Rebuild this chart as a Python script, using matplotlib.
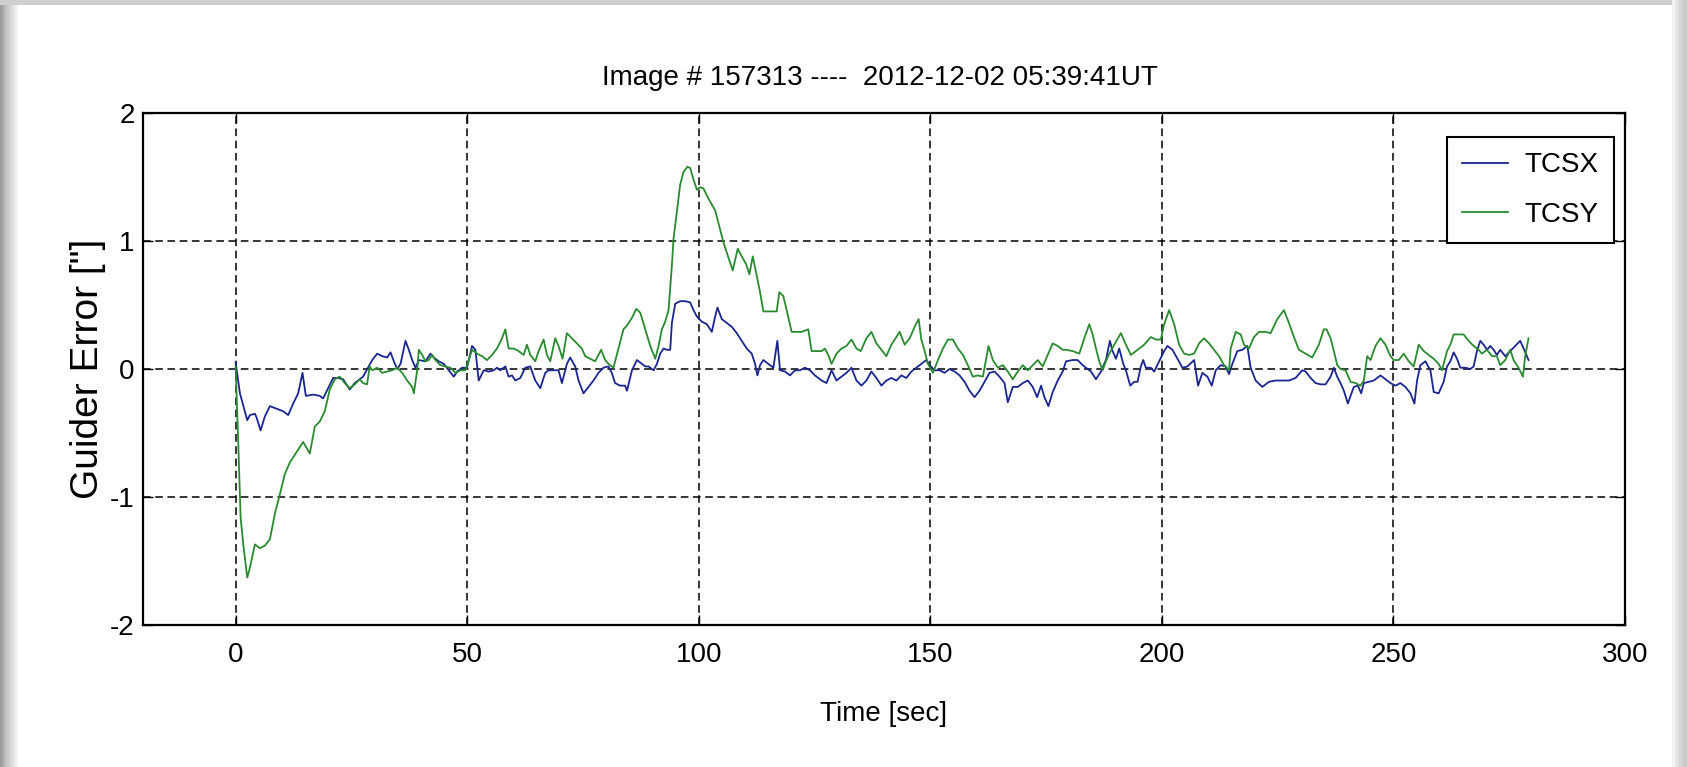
import matplotlib
matplotlib.use('Agg')
import matplotlib.pyplot as plt
from matplotlib.patches import Rectangle

plt.rcParams['font.family'] = ['Liberation Sans', 'DejaVu Sans']
plt.rcParams['axes.unicode_minus'] = False

# guider error samples, TCSX
tcsx_t = [0, 0.93, 2.51, 3.09, 4.17, 4.53, 5.39, 6.32, 7.40, 8.84, 10.27, 11.35, 12.43, 13.51,
          14.44, 15.16, 16.74, 18.18, 18.89, 19.97, 21.05, 22.13, 23.20, 24.64, 25.72, 26.80,
          27.51, 28.59, 29.5, 30.58, 31.66, 32.73, 33.45, 34.17, 34.89, 35.61, 36.68, 37.40,
          38.12, 38.84, 39.56, 40.99, 42.07, 42.79, 43.87, 44.95, 46.02, 47.10, 47.82, 48.90,
          49.97, 51.05, 51.77, 52.49, 53.57, 54.64, 55.72, 56.44, 57.16, 58.24, 58.95, 59.67,
          60.39, 61.47, 62.55, 63.62, 64.70, 65.78, 66.86, 67.57, 68.65, 69.73, 70.45, 71.53,
          72.24, 73.32, 74.04, 75.12, 76.20, 77.27, 78.35, 79.43, 80.51, 81.22, 81.94, 83.02,
          84.10, 84.5, 85.58, 86.66, 87.73, 88.45, 89.17, 90.25, 90.97, 91.68, 92.40, 93.12,
          93.84, 94.20, 94.92, 95.99, 97.07, 98.15, 98.87, 99.59, 100.66, 101.74, 102.82,
          103.54, 104.04, 104.97, 106.05, 107.13, 108.21, 109.28, 110.36, 111.44, 112.16,
          112.66, 113.24, 113.95, 115.03, 116.11, 116.97, 117.55, 118.62, 119.70, 120.78,
          121.86, 122.93, 124.01, 125.09, 126.53, 127.60, 128.68, 129.74, 130.82, 131.89,
          132.97, 134.05, 135.13, 136.20, 137.28, 138.36, 139.44, 140.51, 141.59, 142.67,
          143.75, 144.82, 145.90, 146.98, 148.06, 149.13, 149.85, 150.93, 152.01, 153.09,
          154.16, 155.24, 156.32, 157.40, 158.47, 159.55, 160.63, 161.71, 162.78, 163.86,
          164.94, 166.02, 166.73, 167.81, 168.89, 169.97, 171.05, 172.12, 173.06, 173.92,
          174.64, 175.50, 176.43, 177.51, 178.59, 179.3, 180.74, 181.81, 182.89, 183.97,
          184.69, 185.77, 186.84, 187.92, 188.78, 189.36, 190.08, 190.79, 191.66, 192.23,
          193.17, 194.03, 194.75, 195.46, 195.97, 196.54, 197.62, 198.34, 199.41, 200.49,
          201.21, 202.29, 203.37, 204.44, 205.52, 206.96, 207.82, 208.75, 209.83, 210.77,
          211.63, 212.71, 213.78, 214.50, 215.22, 216.30, 217.37, 218.45, 219.17, 220.25,
          221.69, 223.12, 224.56, 226.00, 227.43, 228.87, 230.31, 231.04, 232.12, 233.19,
          234.27, 235.35, 236.43, 237.14, 237.86, 238.58, 239.30, 240.16, 240.74, 241.45,
          242.32, 243.03, 243.61, 244.69, 245.76, 247.20, 248.28, 249.36, 250.43, 251.51,
          252.59, 253.67, 254.53, 255.10, 255.82, 256.90, 257.98, 258.70, 259.77, 260.85,
          261.57, 262.29, 263.00, 263.72, 264.44, 265.52, 266.60, 267.32, 268.03, 268.75,
          269.47, 270.19, 270.91, 271.63, 272.34, 273.06, 274.14, 275.22, 276.30, 277.37,
          278.24, 279.17]
tcsx_v = [0.05, -0.19, -0.40, -0.36, -0.35, -0.38, -0.48, -0.37, -0.29, -0.31, -0.33, -0.36,
          -0.27, -0.19, -0.03, -0.21, -0.20, -0.21, -0.23, -0.15, -0.07, -0.07, -0.08, -0.16,
          -0.11, -0.08, -0.06, 0.01, 0.07, 0.12, 0.10, 0.09, 0.13, 0.06, 0.00, 0.04, 0.22, 0.15,
          0.07, 0.01, 0.07, 0.06, 0.12, 0.09, 0.06, 0.04, -0.01, -0.06, -0.02, 0.01, 0.01, 0.18,
          0.15, -0.09, -0.01, -0.02, -0.01, 0.01, -0.01, 0.02, -0.06, -0.05, -0.09, -0.07, 0.01,
          0.02, -0.09, -0.15, -0.03, -0.01, -0.01, -0.01, -0.11, 0.04, 0.09, 0.02, -0.09, -0.19,
          -0.14, -0.09, -0.03, 0.01, 0.02, -0.03, -0.11, -0.13, -0.13, -0.17, -0.01, 0.07, 0.04,
          0.02, 0.02, -0.01, 0.04, 0.12, 0.16, 0.15, 0.15, 0.36, 0.51, 0.53, 0.53, 0.52, 0.46,
          0.41, 0.37, 0.35, 0.29, 0.41, 0.48, 0.39, 0.36, 0.33, 0.28, 0.22, 0.16, 0.12, 0.04,
          -0.05, 0.03, 0.07, 0.04, 0.01, 0.22, -0.01, -0.02, -0.05, -0.01, -0.01, 0.01, -0.01,
          -0.05, -0.09, -0.11, -0.01, -0.09, -0.06, -0.03, 0.01, -0.09, -0.13, -0.09, -0.02,
          -0.07, -0.13, -0.09, -0.07, -0.09, -0.05, -0.07, -0.02, 0.01, 0.04, 0.07, 0.03, -0.01,
          -0.01, -0.03, 0.00, -0.02, -0.05, -0.10, -0.17, -0.22, -0.17, -0.10, -0.03, -0.02,
          -0.06, -0.11, -0.26, -0.14, -0.14, -0.11, -0.09, -0.14, -0.22, -0.13, -0.22, -0.29,
          -0.18, -0.09, -0.02, 0.06, 0.07, 0.07, 0.03, 0.00, -0.02, -0.08, -0.02, 0.07, 0.22,
          0.14, 0.08, 0.16, 0.04, -0.01, -0.13, -0.10, -0.10, 0.02, 0.07, 0.01, 0.01, -0.02,
          0.06, 0.14, 0.18, 0.15, 0.08, 0.01, 0.02, 0.07, -0.13, -0.03, -0.06, -0.13, -0.01,
          0.03, 0.02, -0.04, 0.04, 0.14, 0.15, 0.18, 0.01, -0.09, -0.14, -0.10, -0.09, -0.09,
          -0.09, -0.07, -0.01, -0.02, -0.07, -0.11, -0.12, -0.12, -0.06, 0.01, -0.06, -0.11,
          -0.17, -0.27, -0.21, -0.14, -0.13, -0.19, -0.11, -0.10, -0.09, -0.05, -0.08, -0.11,
          -0.13, -0.11, -0.14, -0.19, -0.27, -0.09, 0.03, 0.06, -0.01, -0.18, -0.19, -0.10,
          0.02, 0.06, 0.13, 0.08, 0.01, 0.01, 0.00, 0.02, 0.14, 0.22, 0.19, 0.15, 0.18, 0.15,
          0.11, 0.15, 0.10, 0.14, 0.18, 0.22, 0.15, 0.07]

# guider error samples, TCSY
tcsy_t = [0, 0.57, 1.08, 1.65, 2.51, 3.09, 4.17, 5.24, 6.32, 7.40, 8.48, 9.55, 10.63, 11.71,
          13.15, 14.58, 16.02, 17.10, 18.18, 19.25, 20.33, 21.41, 22.49, 23.56, 24.64, 25.72,
          26.80, 27.51, 28.38, 28.95, 29.5, 30.58, 31.66, 32.73, 33.81, 34.89, 35.97, 37.04,
          38.12, 38.48, 39.20, 39.56, 40.28, 40.99, 41.71, 42.43, 43.15, 44.23, 45.30, 46.38,
          47.46, 48.54, 49.61, 50.33, 51.05, 52.13, 53.21, 54.28, 55.36, 56.44, 57.52, 58.24,
          58.95, 60.03, 61.11, 62.19, 62.90, 63.62, 64.70, 65.42, 66.50, 67.22, 67.93, 69.01,
          69.73, 70.59, 71.53, 72.60, 73.68, 74.76, 75.48, 76.55, 77.63, 78.93, 79.79, 80.51,
          81.58, 82.66, 83.74, 84.5, 85.58, 86.51, 87.37, 88.45, 89.53, 90.61, 91.32, 92.04,
          92.76, 93.48, 94.20, 94.56, 95.28, 95.99, 96.71, 97.57, 98.15, 98.87, 99.59, 100.30,
          101.02, 102.10, 103.54, 104.61, 105.33, 106.05, 107.34, 108.42, 109.28, 110.22,
          110.94, 111.66, 112.52, 113.24, 113.95, 115.03, 116.11, 116.83, 117.40, 118.26,
          118.98, 120.06, 121.14, 122.22, 123.65, 124.37, 125.45, 126.53, 127.24, 127.96,
          128.68, 129.74, 130.82, 131.89, 132.97, 134.05, 134.98, 136.20, 137.28, 138.36,
          139.44, 140.51, 141.59, 142.67, 143.39, 144.46, 145.54, 146.62, 147.48, 148.06,
          148.78, 149.49, 150.57, 151.65, 152.73, 153.80, 154.88, 155.96, 157.04, 158.11,
          159.19, 160.27, 161.35, 162.57, 163.50, 164.58, 165.66, 166.73, 167.81, 168.89,
          169.97, 171.05, 172.12, 173.20, 174.28, 175.36, 176.43, 177.51, 178.59, 179.3,
          180.74, 182.17, 183.25, 184.33, 185.05, 185.77, 186.48, 187.20, 187.92, 188.64,
          189.72, 191.15, 192.23, 193.31, 194.75, 196.18, 197.62, 198.70, 199.77, 200.49,
          201.57, 202.65, 203.73, 204.80, 205.88, 206.96, 208.04, 209.11, 210.19, 211.27,
          212.35, 213.42, 214.50, 214.86, 215.94, 217.02, 217.73, 218.81, 219.89, 220.97,
          222.40, 223.48, 224.92, 226.35, 227.43, 228.51, 229.59, 231.02, 232.46, 233.90,
          234.97, 235.56, 236.43, 237.14, 237.86, 238.58, 239.66, 240.74, 241.81, 242.89,
          243.61, 244.33, 245.05, 246.12, 247.20, 248.28, 249.36, 250.07, 251.15, 252.23,
          253.31, 254.38, 255.46, 256.54, 257.62, 258.70, 259.77, 260.49, 261.57, 262.29,
          263.00, 264.08, 265.16, 266.24, 267.32, 268.39, 269.11, 270.19, 271.27, 272.34,
          273.06, 274.14, 275.22, 275.94, 277.01, 277.95, 278.45, 279.17]
tcsy_v = [0.02, -0.58, -1.16, -1.37, -1.63, -1.55, -1.37, -1.40, -1.38, -1.33, -1.13, -0.98,
          -0.82, -0.73, -0.65, -0.57, -0.66, -0.45, -0.41, -0.33, -0.16, -0.08, -0.06, -0.11,
          -0.15, -0.12, -0.08, -0.11, -0.12, 0.02, -0.01, 0.01, -0.03, -0.02, -0.01, 0.01,
          -0.03, -0.09, -0.14, -0.19, -0.01, 0.15, 0.11, 0.06, 0.07, 0.11, 0.07, 0.03, 0.02,
          0.01, -0.03, -0.01, -0.01, 0.07, 0.15, 0.12, 0.10, 0.07, 0.11, 0.16, 0.24, 0.31, 0.16,
          0.16, 0.14, 0.11, 0.19, 0.11, 0.06, 0.14, 0.23, 0.11, 0.06, 0.24, 0.18, 0.08, 0.28,
          0.24, 0.20, 0.16, 0.10, 0.08, 0.06, 0.15, 0.07, 0.04, 0.01, 0.16, 0.31, 0.34, 0.40,
          0.47, 0.44, 0.31, 0.18, 0.08, 0.18, 0.31, 0.37, 0.46, 0.81, 1.02, 1.23, 1.44, 1.54,
          1.58, 1.57, 1.48, 1.40, 1.42, 1.41, 1.33, 1.24, 1.09, 0.99, 0.91, 0.77, 0.94, 0.88,
          0.82, 0.74, 0.88, 0.73, 0.60, 0.45, 0.45, 0.45, 0.45, 0.60, 0.57, 0.46, 0.29, 0.29,
          0.29, 0.31, 0.14, 0.14, 0.14, 0.16, 0.11, 0.04, 0.12, 0.16, 0.18, 0.23, 0.16, 0.14,
          0.24, 0.29, 0.20, 0.15, 0.10, 0.19, 0.25, 0.29, 0.19, 0.24, 0.33, 0.39, 0.23, 0.14,
          0.04, -0.03, 0.07, 0.16, 0.23, 0.23, 0.16, 0.11, 0.03, -0.06, -0.05, -0.06, 0.18,
          0.07, 0.01, 0.03, -0.02, -0.08, -0.02, 0.03, -0.01, 0.03, 0.07, 0.02, 0.11, 0.20,
          0.18, 0.15, 0.15, 0.14, 0.12, 0.24, 0.35, 0.27, 0.16, 0.06, -0.01, 0.06, 0.12, 0.19,
          0.28, 0.19, 0.11, 0.15, 0.19, 0.25, 0.23, 0.23, 0.35, 0.46, 0.35, 0.19, 0.12, 0.11,
          0.12, 0.20, 0.24, 0.20, 0.15, 0.10, 0.03, -0.01, 0.16, 0.29, 0.27, 0.19, 0.16, 0.25,
          0.29, 0.29, 0.28, 0.39, 0.46, 0.36, 0.25, 0.15, 0.12, 0.09, 0.19, 0.31, 0.31, 0.24,
          0.14, 0.03, 0.00, -0.01, -0.10, -0.11, -0.13, -0.09, 0.10, 0.07, 0.18, 0.24, 0.19,
          0.10, 0.07, 0.07, 0.12, 0.06, 0.02, 0.19, 0.14, 0.11, 0.08, 0.04, -0.01, 0.14, 0.19,
          0.27, 0.27, 0.27, 0.22, 0.18, 0.15, 0.12, 0.15, 0.10, 0.10, 0.03, 0.07, 0.15, 0.07,
          0.01, -0.06, 0.10, 0.24]

x_ticks = [0, 50, 100, 150, 200, 250, 300]
y_ticks = [-2, -1, 0, 1, 2]

W, H = 1687, 767
fig = plt.figure(figsize=(W / 100, H / 100), dpi=100)
fig.patch.set_facecolor('white')

# grey frame with a soft shadow on the left
left_shades = ['#9c9c9c', '#a8a8a8', '#b4b4b4', '#c0c0c0', '#cacaca', '#d4d4d4',
               '#dcdcdc', '#e4e4e4', '#ebebeb', '#f2f2f2']
for i, c in enumerate(left_shades):
    fig.add_artist(Rectangle((i * 1.8 / W, 0), 1.8 / W, 1, transform=fig.transFigure,
                             facecolor=c, edgecolor='none', zorder=0))
fig.add_artist(Rectangle((0, 1 - 5 / H), 1, 5 / H, transform=fig.transFigure,
                         facecolor='#cfcfcf', edgecolor='none', zorder=0))
right_shades = ['#f2f2f2', '#e6e6e6', '#dadada', '#d0d0d0', '#c8c8c8']
for i, c in enumerate(right_shades):
    fig.add_artist(Rectangle(((1672 + i * 3) / W, 0), 3 / W, 1, transform=fig.transFigure,
                             facecolor=c, edgecolor='none', zorder=0))

ax = fig.add_axes([143 / W, 1 - 625 / H, (1625 - 143) / W, (625 - 113) / H])
ax.plot(tcsx_t, tcsx_v, color='#1a2590', lw=1.3, label='TCSX')
ax.plot(tcsy_t, tcsy_v, color='#2a8a30', lw=1.3, label='TCSY')

ax.set_xlim(-20, 300)
ax.set_ylim(-2, 2)
ax.set_xticks(x_ticks)
ax.set_yticks(y_ticks)
ax.set_axisbelow(True)
ax.grid(True, color='black', linestyle=(0, (5, 3)), linewidth=1.1)
for s in ax.spines.values():
    s.set_linewidth(1.6)
ax.tick_params(direction='in', length=7, width=1.0, top=True, right=True,
               labelsize=20, pad=6)
ax.tick_params(axis='x', pad=12)

ax.set_xlabel('Time [sec]', fontsize=20, labelpad=24)
ax.set_ylabel('Guider Error ["]', fontsize=28)
ax.yaxis.set_label_coords(-0.025, 0.5)
fig.text(880 / W, 1 - 78 / H, 'Image # 157313 ----  2012-12-02 05:39:41UT',
         ha='center', va='center', fontsize=20)

leg = ax.legend(loc='upper right', bbox_to_anchor=(1614 / W, 1 - 137 / H),
                bbox_transform=fig.transFigure, borderaxespad=0, fontsize=20,
                fancybox=False, framealpha=1, edgecolor='black', handlelength=1.65,
                handletextpad=0.6, borderpad=0.55, labelspacing=0.85)
leg.get_frame().set_linewidth(1.5)

fig.savefig('out.png', dpi=100)
